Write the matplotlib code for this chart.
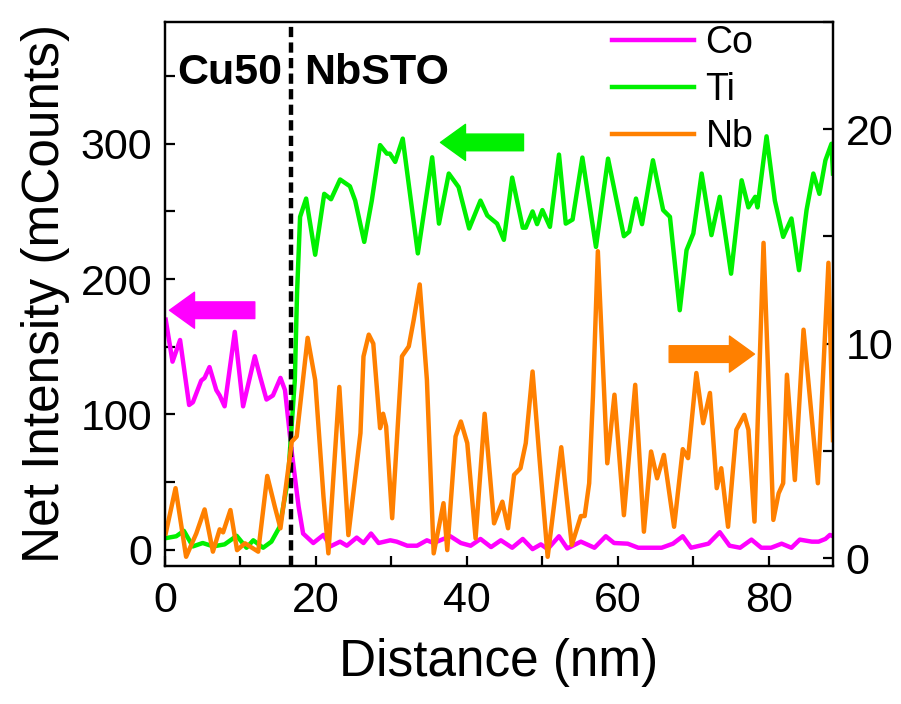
import numpy as np
import matplotlib.pyplot as plt
from matplotlib.ticker import MultipleLocator

plt.rcParams['font.family'] = ['Liberation Sans', 'DejaVu Sans']

# Co (left axis, mCounts)
co_x = [0.1, 1.0, 2.0, 3.2, 3.7, 4.8, 5.25, 5.9, 6.8, 7.25, 7.9, 9.25, 10.35, 11.9, 12.6, 13.45, 14.3, 15.3, 15.9, 16.8,
        17.7, 18.3, 19.65, 21.0, 21.9, 23.2, 24.1, 25.4, 26.3, 27.3, 28.3, 29.85, 30.7, 32.1, 33.4, 34.7, 35.6, 36.9, 37.8, 39.2,
        40.5, 41.8, 43.2, 44.5, 46.0, 47.4, 48.7, 49.8, 50.7, 52.2, 53.3, 55.1, 56.9, 58.4, 59.5, 61.3, 62.7, 65.8, 67.3, 68.6,
        69.7, 72.0, 73.5, 74.8, 76.2, 77.7, 79.0, 80.3, 81.7, 83.0, 84.1, 85.7, 86.6, 87.5, 88.1, 88.5]
co_y = [170, 139, 155, 107, 109, 125, 127, 135, 118, 114, 106, 161, 106, 143, 128, 111, 114, 127, 118, 72,
        32, 12, 5, 11, 2.5, 6, 3, 9, 5, 12, 5, 7, 6, 3, 3, 7, 5, 8, 10, 5,
        3, 8, 2, 7, 1.5, 8, 0.5, 4, 0.5, 10, 1, 6, 1.5, 10, 5, 4.5, 1.5, 1.5, 4.5, 10,
        1.5, 4.5, 13, 3, 1.5, 7.5, 1.5, 1.5, 4.5, 1.5, 7.5, 6, 6, 8, 11, 10]

# Ti (left axis, mCounts)
ti_x = [0.1, 1.5, 2.5, 3.7, 5.0, 6.4, 7.9, 9.5, 10.8, 11.7, 13.0, 14.1, 15.2, 16.3, 16.8, 17.2, 17.5, 17.9, 18.7, 19.9,
        21.1, 22.0, 23.2, 24.5, 25.2, 26.4, 27.4, 28.5, 29.4, 29.8, 30.5, 31.5, 33.5, 35.4, 36.3, 37.6, 38.9, 40.3, 41.8, 42.7,
        44.0, 44.9, 46.0, 47.4, 47.8, 48.7, 49.3, 50.0, 51.0, 52.2, 53.1, 54.0, 55.3, 57.1, 58.7, 60.8, 61.5, 62.4, 63.2, 64.65,
        66.0, 66.9, 68.2, 69.1, 70.0, 71.1, 72.4, 73.5, 75.0, 76.4, 77.3, 78.2, 78.5, 79.7, 80.8, 81.9, 83.0, 84.0, 85.0, 85.9,
        86.7, 87.5, 88.3, 88.5]
ti_y = [8.6, 10, 14, 2.5, 5, 2.5, 4, 10.3, 1.5, 7, 1.5, 6, 17, 52, 93, 125, 190, 246, 259.5, 218,
        263, 259, 273.6, 268.6, 258, 227.5, 258, 299, 292.7, 292.7, 286.6, 303.8, 219, 290, 241, 278, 268, 237.4, 258, 247,
        241, 229, 275, 238, 238, 250, 240.6, 251, 238.6, 292, 241, 244, 289.8, 223.8, 289, 231.7, 235, 259.5, 240.6, 287.8,
        251, 246, 177, 221.4, 233.7, 278, 232.5, 260.8, 204, 273, 253, 260.8, 253, 305.5, 258, 231.2, 244.8, 206.6, 251, 278,
        263, 287.8, 300, 278]

# Nb (right axis)
nb_x = [0.1, 1.4, 2.8, 4.15, 5.25, 6.35, 7.25, 7.7, 8.67, 9.55, 10.6, 12.35, 13.55, 14.55, 15.3, 16.8, 17.45, 18.9, 19.9, 21.0,
        21.65, 23.1, 24.3, 25.9, 26.3, 27.0, 27.6, 28.5, 28.9, 29.3, 30.1, 31.4, 32.3, 32.95, 33.75, 34.7, 35.6, 36.9, 37.4, 38.5,
        39.2, 40.05, 41.15, 42.35, 43.6, 44.7, 45.45, 46.25, 47.1, 47.8, 48.7, 49.6, 50.7, 52.5, 53.9, 55.1, 55.6, 56.2, 56.7, 57.35,
        58.6, 59.55, 60.8, 62.3, 63.45, 64.4, 65.2, 66.1, 67.45, 68.6, 69.3, 70.4, 71.3, 72.2, 73.1, 73.7, 74.6, 75.7, 76.75, 77.3,
        78.1, 79.3, 80.6, 81.3, 81.9, 82.4, 83.45, 84.6, 86.5, 87.9, 88.5]
nb_y = [1.15, 3.26, 0.06, 1.15, 2.27, 0.3, 1.34, 1.2, 2.24, 0.37, 0.69, 0.3, 3.83, 2.4, 1.39, 5.43, 5.67, 10.27, 8.3, 2.86,
        0.22, 7.98, 1.07, 5.83, 9.4, 10.42, 10.0, 6.06, 6.73, 6.14, 1.86, 9.41, 9.87, 11.1, 12.76, 8.32, 0.22, 2.56, 0.37, 5.67,
        6.37, 5.36, 0.92, 6.73, 1.62, 2.63, 1.39, 3.88, 4.19, 5.36, 8.7, 4.73, 0.06, 5.17, 0.61, 1.96, 1.96, 3.49, 7.54, 14.31,
        4.42, 7.62, 2.0, 8.08, 1.23, 4.97, 3.72, 4.81, 1.46, 5.08, 4.66, 8.63, 6.29, 7.7, 3.26, 4.19, 1.46, 5.98, 6.68, 5.98,
        1.7, 14.7, 1.78, 3.02, 3.49, 8.55, 3.64, 10.65, 3.49, 13.77, 5.5]

interface_x = 16.7

c_co = '#FF00FF'
c_ti = '#00F000'
c_nb = '#FF8000'

fig = plt.figure(figsize=(9.01, 7.04), dpi=100)
ax = fig.add_axes([0.1831, 0.196, 0.7414, 0.7728])
ax2 = ax.twinx()

lw = 3.2
l_co, = ax.plot(co_x, co_y, color=c_co, lw=lw, solid_joinstyle='round', label='Co')
l_ti, = ax.plot(ti_x, ti_y, color=c_ti, lw=lw, solid_joinstyle='round', label='Ti')
l_nb, = ax2.plot(nb_x, nb_y, color=c_nb, lw=lw, solid_joinstyle='round', label='Nb')

ax.axvline(interface_x, color='black', lw=3.2, ls=(0, (2.3, 1.2)))

ax.set_xlim(0, 88.5)
ax.set_ylim(-12, 390)
ax2.set_ylim(-0.37, 25.0)

ax.xaxis.set_major_locator(MultipleLocator(20))
ax.xaxis.set_minor_locator(MultipleLocator(10))
ax.yaxis.set_major_locator(MultipleLocator(100))
ax.yaxis.set_minor_locator(MultipleLocator(50))
ax2.yaxis.set_major_locator(MultipleLocator(10))
ax2.yaxis.set_minor_locator(MultipleLocator(5))

for a in (ax, ax2):
    for s in a.spines.values():
        s.set_linewidth(1.6)
    a.tick_params(which='both', direction='in', length=7, width=1.6, labelsize=31, pad=9)
ax.tick_params(axis='x', pad=11)
ax.tick_params(axis='y', which='both', right=False)
ax2.tick_params(axis='y', which='both', left=False)

ax.set_xlabel('Distance (nm)', fontsize=37, labelpad=12)
ax.set_ylabel('Net Intensity (mCounts)', fontsize=37, labelpad=8)

ax.text(1.6, 352, 'Cu50', fontsize=31, fontweight='bold', va='center', ha='left')
ax.text(18.4, 352, 'NbSTO', fontsize=31, fontweight='bold', va='center', ha='left')

def fat_arrow(tail, tip, color):
    ax.annotate('', xy=tip, xytext=tail,
                arrowprops=dict(arrowstyle='simple,head_length=1.8,head_width=2.6,tail_width=1.2',
                                color=color, shrinkA=0, shrinkB=0, mutation_scale=10))

fat_arrow((11.9, 177), (0.6, 177), c_co)
fat_arrow((47.5, 301), (36.5, 301), c_ti)
fat_arrow((66.8, 144.6), (78.1, 144.6), c_nb)

ax2.legend(handles=[l_co, l_ti, l_nb], loc='upper left', bbox_to_anchor=(0.669, 0.995),
           frameon=False, fontsize=27, handlelength=2.2, handletextpad=0.3,
           labelspacing=0.3, borderpad=0.0, borderaxespad=0.0)

fig.savefig('out.png', dpi=100)
